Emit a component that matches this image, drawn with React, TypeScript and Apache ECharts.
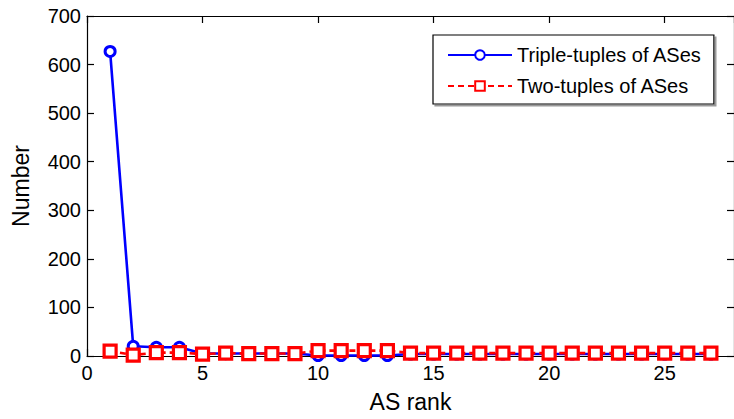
import React, { useEffect, useRef } from "react";
import * as echarts from "echarts";

const ranks = [1, 2, 3, 4, 5, 6, 7, 8, 9, 10, 11, 12, 13, 14, 15, 16, 17, 18, 19, 20, 21, 22, 23, 24, 25, 26, 27];
const tripleTuples = [627, 20, 18, 18, 5, 5, 5, 5, 5, 1, 1, 1, 1, 4, 4, 4, 4, 4, 4, 4, 4, 4, 4, 4, 4, 4, 4];
const twoTuples = [10, 2, 7, 7, 4, 6, 5, 5, 5, 11, 11, 11, 11, 6, 6, 6, 6, 6, 6, 6, 6, 6, 6, 6, 6, 6, 6];
const seriesNames = ["Triple-tuples of ASes", "Two-tuples of ASes"];
const xTitle = "AS rank";
const yTitle = "Number";

const FONT = "'Liberation Sans', Arial, Helvetica, sans-serif";

export default function App() {
  const ref = useRef<HTMLDivElement>(null);
  useEffect(() => {
    document.body.style.margin = "0";
    if (!ref.current) return;
    const chart = echarts.init(ref.current, null, { renderer: "svg" });
    const axisCommon = {
      axisLine: { show: true, onZero: false, lineStyle: { color: "#000", width: 1.2 } },
      axisTick: { show: true, inside: true, length: 7, lineStyle: { color: "#000", width: 1.2 } },
      splitLine: { show: false },
    };
    chart.setOption({
      animation: false,
      backgroundColor: "#fff",
      textStyle: { fontFamily: FONT },
      grid: { left: 87, top: 16, width: 653, height: 340, containLabel: false },
      legend: {
        orient: "vertical",
        left: 433,
        top: 35,
        padding: [10, 12, 8, 14],
        itemGap: 11,
        itemWidth: 64,
        itemHeight: 12,
        backgroundColor: "#fff",
        borderColor: "#000",
        borderWidth: 1.2,
        borderRadius: 0,
        shadowColor: "#999",
        shadowOffsetX: 2,
        shadowOffsetY: 2,
        shadowBlur: 0,
        textStyle: { fontFamily: FONT, fontSize: 20, color: "#000", lineHeight: 20, padding: [0, 0, 0, 0] },
        data: seriesNames,
      },
      xAxis: [
        {
          type: "value",
          position: "bottom",
          min: 0,
          max: 28,
          interval: 5,
          name: xTitle,
          nameLocation: "middle",
          nameGap: 34,
          nameTextStyle: { fontFamily: FONT, fontSize: 23, color: "#000" },
          axisLabel: { showMaxLabel: false, fontFamily: FONT, fontSize: 20, color: "#000", margin: 7 },
          ...axisCommon,
        },
        {
          type: "value",
          position: "top",
          min: 0,
          max: 28,
          interval: 5,
          axisLabel: { show: false },
          ...axisCommon,
        },
      ],
      yAxis: [
        {
          type: "value",
          position: "left",
          min: 0,
          max: 700,
          interval: 100,
          name: yTitle,
          nameLocation: "middle",
          nameGap: 55,
          nameTextStyle: { fontFamily: FONT, fontSize: 23, color: "#000" },
          axisLabel: { fontFamily: FONT, fontSize: 20, color: "#000", margin: 6 },
          ...axisCommon,
        },
        {
          type: "value",
          position: "right",
          min: 0,
          max: 700,
          interval: 100,
          axisLabel: { show: false },
          ...axisCommon,
        },
      ],
      series: [
        {
          name: seriesNames[0],
          type: "line",
          data: ranks.map((r, i) => [r, tripleTuples[i]]),
          symbol: "circle",
          symbolSize: 10,
          color: "#0000ff",
          lineStyle: { color: "#0000ff", width: 2.6 },
          itemStyle: { color: "#ffffff", borderColor: "#0000ff", borderWidth: 3 },
        },
        {
          name: seriesNames[1],
          type: "line",
          data: ranks.map((r, i) => [r, twoTuples[i]]),
          symbol: "rect",
          symbolSize: 12,
          color: "#ff0000",
          lineStyle: { color: "#ff0000", width: 2.6, type: [6, 4] },
          itemStyle: { color: "#ffffff", borderColor: "#ff0000", borderWidth: 3.2 },
        },
      ],
    });
    return () => chart.dispose();
  }, []);
  return <div ref={ref} style={{ width: 734, height: 419 }} />;
}
